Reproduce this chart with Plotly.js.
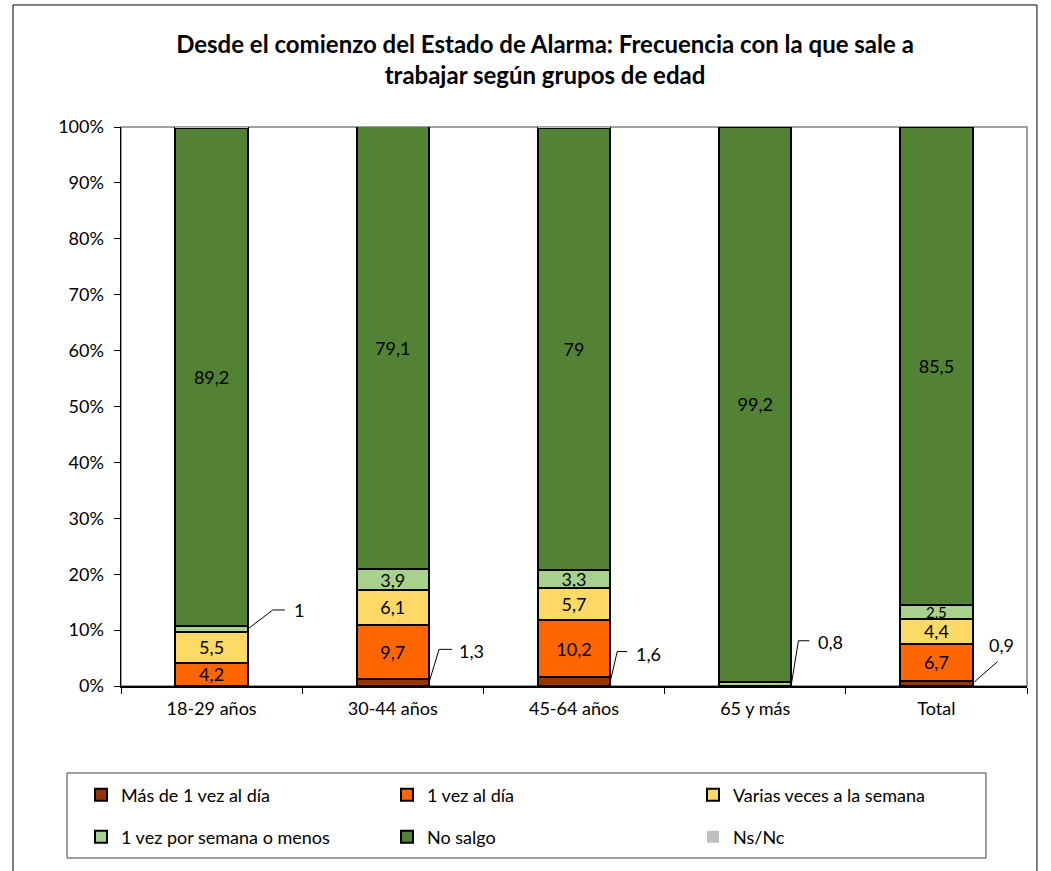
<!DOCTYPE html>
<html>
<head>
<meta charset="utf-8">
<script src="https://cdn.plot.ly/plotly-3.0.1.min.js"></script>
<style>
html,body{margin:0;padding:0;background:#fff;}
#chart{width:1051px;height:871px;}
</style>
</head>
<body>
<div id="chart"></div>
<script>
// ---- data ----
const categories = ["18-29 años", "30-44 años", "45-64 años", "65 y más", "Total"];
const seriesNames = ["Más de 1 vez al día", "1 vez al día", "Varias veces a la semana", "1 vez por semana o menos", "No salgo", "Ns/Nc"];
const masDeUna    = [0,   1.3,  1.6,  0,    0.9];
const unaVezDia   = [4.2, 9.7,  10.2, 0,    6.7];
const variasVeces = [5.5, 6.1,  5.7,  0,    4.4];
const unaVezSem   = [1,   3.9,  3.3,  0.8,  2.5];
const noSalgo     = [89.2,79.1, 79,   99.2, 85.5];
const nsnc        = [0.1, 0,    0.2,  0,    0.1];

const series = [masDeUna, unaVezDia, variasVeces, unaVezSem, noSalgo, nsnc];
const colors = ["#993300", "#FF6600", "#FFD966", "#A9D18E", "#548235", "#BFBFBF"];
const fmt = v => String(v).replace('.', ',');
const SMALL = 2;
const FONT = 'Lato, sans-serif';

// pixel offsets for leader lines of small values (style, per category)
const leaderStyle = [
  {path:"M0,0 L25,19 L37,19", dx:44, dy:19},
  {path:"M0,0 L10,33 L23,33", dx:28, dy:31},
  {path:"M0,0 L7,30 L17,30",  dx:24, dy:28},
  {path:"M0,0 L7,43 L18,43",  dx:25, dy:42},
  {path:"M0,0 L25,22",        dx:14, dy:38}
];

const legendIds = ['legend', 'legend2', 'legend3', 'legend4', 'legend5', 'legend6'];

const traces = series.map((vals, s) => ({
  type: 'bar',
  name: seriesNames[s],
  x: categories,
  y: vals,
  marker: {color: colors[s], line: {color: s === 5 ? colors[s] : '#000000', width: s === 5 ? 0 : 2}},
  text: vals.map(v => (s < 5 && v >= SMALL) ? fmt(v) : ''),
  textposition: 'inside',
  insidetextanchor: 'middle',
  textangle: 0,
  constraintext: 'none',
  textfont: {family: FONT, size: vals.map(v => v < 3 ? 15 : 18), color: '#000000'},
  hoverinfo: 'skip',
  legend: legendIds[s],
  showlegend: true
}));

const annotations = [];
const shapes = [];
categories.forEach((c, i) => {
  let cum = 0;
  series.forEach((vals, s) => {
    const v = vals[i];
    if (s < 5 && v > 0 && v < SMALL) {
      const mid = cum + v / 2;
      const st = leaderStyle[i];
      shapes.push({type:'path', xref:'x', yref:'y', xsizemode:'pixel', ysizemode:'pixel',
        xanchor: i + 0.2, yanchor: mid, path: st.path, line:{color:'#000000', width:1}});
      annotations.push({x: i + 0.2, y: mid, xref:'x', yref:'y', text: fmt(v), showarrow:false,
        xanchor:'left', yanchor:'middle', xshift: st.dx, yshift: st.dy,
        font:{family:FONT, size:18, color:'#000000'}});
    }
    cum += v;
  });
});

// plot-area border (top/right gray)
shapes.push({type:'rect', xref:'paper', yref:'paper', x0:0, x1:1, y0:0, y1:1, line:{color:'#808080', width:1.5}, layer:'below'});
// outer chart frame
shapes.push({type:'rect', xref:'paper', yref:'paper', x0:-0.1192, x1:1.0110, y0:-0.34, y1:1.2183, line:{color:'#000000', width:1}, layer:'below'});
// legend box
shapes.push({type:'rect', xref:'paper', yref:'paper', x0:-0.0596, x1:0.9547, y0:-0.3077, y1:-0.1556, line:{color:'#404040', width:1}, layer:'below'});

// legend entry placement (text start x, row centre y) in px
const legendPos = [[121,795],[427,795],[733,795],[121,837],[427,837],[733,837]];

const layout = {
  width:1051, height:871,
  margin:{l:121, r:24, t:127, b:185},
  paper_bgcolor:'#ffffff', plot_bgcolor:'#ffffff',
  separators: ',.',
  barmode:'stack', bargap:0.6,
  title:{text:'<b>Desde el comienzo del Estado de Alarma: Frecuencia con la que sale a<br>trabajar según grupos de edad</b>',
    font:{family:FONT, size:24, color:'#000000'}, xref:'container', x:545/1051, xanchor:'center',
    yref:'container', y:1-53/871, yanchor:'top'},
  font:{family:FONT, size:18, color:'#000000'},
  xaxis:{type:'category', showline:true, linecolor:'#000000', linewidth:1.5, ticks:'outside', tickson:'boundaries',
    ticklen:6, tickcolor:'#000000', showgrid:false, zeroline:false, ticklabelstandoff:6,
    tickfont:{family:FONT, size:18, color:'#000000'}},
  yaxis:{range:[0,100], dtick:10, ticksuffix:'%', showline:true, linecolor:'#000000', linewidth:1.5, ticks:'outside',
    ticklen:6, tickcolor:'#000000', showgrid:false, zeroline:false, ticklabelstandoff:6,
    tickfont:{family:FONT, size:18, color:'#000000'}},
  shapes: shapes,
  annotations: annotations
};
legendIds.forEach((id, k) => {
  layout[id] = {
    orientation:'h', xref:'container', yref:'container', yanchor:'middle', xanchor:'left',
    x: (legendPos[k][0] - 40) / 1051, y: 1 - legendPos[k][1] / 871,
    font:{family:FONT, size:18, color:'#000000'}, bgcolor:'rgba(0,0,0,0)', borderwidth:0,
    itemclick:false, itemdoubleclick:false
  };
});

Plotly.newPlot('chart', traces, layout, {displayModeBar:false, staticPlot:true});
</script>
</body>
</html>
